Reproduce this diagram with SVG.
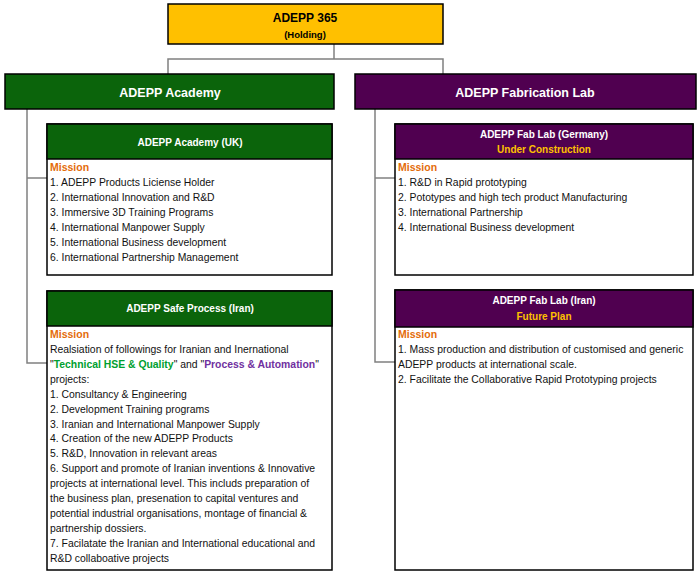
<svg xmlns="http://www.w3.org/2000/svg" width="700" height="577" viewBox="0 0 700 577">
<style>
text{font-family:"Liberation Sans",Arial,sans-serif;}
.b{fill:#fff;stroke:#000;stroke-width:1.5}
.g{fill:#0B640B}
.p{fill:#500050}
.hd{fill:#fff;font-weight:bold;text-anchor:middle}
.t{font-size:10.4px;fill:#111}
.m{font-size:10.5px;fill:#E46C0A;font-weight:bold}
.y{fill:#FFC000;font-weight:bold;font-size:10px;text-anchor:middle}
.c{stroke:#808080;stroke-width:1.5;fill:none}
</style>
<g id="connectors">
<polyline class="c" points="334,44 334,59"/>
<polyline class="c" points="168,74 168,59 443,59 443,74"/>
<polyline class="c" points="27,109 27,363 47,363"/>
<line class="c" x1="27" y1="178" x2="47" y2="178"/>
<polyline class="c" points="375,109 375,362 395,362"/>
<line class="c" x1="375" y1="178" x2="395" y2="178"/>
</g>
<g id="holding">
<rect x="168" y="4" width="275" height="40" fill="#FFC000" stroke="#000" stroke-width="1.5"/>
<text x="305" y="22" font-size="12" font-weight="bold" text-anchor="middle" fill="#000">ADEPP 365</text>
<text x="305" y="38" font-size="9.5" font-weight="bold" text-anchor="middle" fill="#000">(Holding)</text>
</g>
<g id="academy">
<rect x="5" y="74" width="329" height="35" class="g" stroke="#000" stroke-width="1.5"/>
<text x="170" y="97" class="hd" font-size="12.5">ADEPP Academy</text>
</g>
<g id="fablab">
<rect x="355" y="74" width="341" height="35" class="p" stroke="#000" stroke-width="1.5"/>
<text x="525" y="97" class="hd" font-size="12.5">ADEPP Fabrication Lab</text>
</g>
<g id="academy-uk">
<rect x="47" y="124" width="285" height="151" class="b"/>
<rect x="47" y="124" width="285" height="35" class="g" stroke="#000" stroke-width="1.5"/>
<text x="190" y="146" class="hd" font-size="10">ADEPP Academy (UK)</text>
<text x="50" y="171" class="m">Mission</text>
<text x="50" y="186" class="t">1. ADEPP Products Liciense Holder</text>
<text x="50" y="201" class="t">2. International Innovation and R&amp;D</text>
<text x="50" y="216" class="t">3. Immersive 3D Training Programs</text>
<text x="50" y="231" class="t">4. International Manpower Supply</text>
<text x="50" y="246" class="t">5. International Business development</text>
<text x="50" y="261" class="t">6. International Partnership Management</text>
</g>
<g id="fablab-germany">
<rect x="395" y="124" width="298" height="151" class="b"/>
<rect x="395" y="124" width="298" height="35" class="p" stroke="#000" stroke-width="1.5"/>
<text x="544" y="138" class="hd" font-size="10">ADEPP Fab Lab (Germany)</text>
<text x="544" y="153" class="y">Under Construction</text>
<text x="398" y="171" class="m">Mission</text>
<text x="398" y="186" class="t">1. R&amp;D in Rapid prototyping</text>
<text x="398" y="201" class="t">2. Pototypes and high tech product Manufacturing</text>
<text x="398" y="216" class="t">3. International Partnership</text>
<text x="398" y="231" class="t">4. International Business development</text>
</g>
<g id="safe-process-iran">
<rect x="47" y="291" width="285" height="279" class="b"/>
<rect x="47" y="291" width="285" height="35" class="g" stroke="#000" stroke-width="1.5"/>
<text x="190" y="312" class="hd" font-size="10">ADEPP Safe Process (Iran)</text>
<text x="50" y="338" class="m">Mission</text>
<text x="50" y="353" class="t">Realsiation of followings for Iranian and Inernational</text>
<text x="50" y="368" class="t">"<tspan fill="#00A030" font-weight="bold">Technical HSE &amp; Quality</tspan>" and "<tspan fill="#7030A0" font-weight="bold">Process &amp; Automation</tspan>"</text>
<text x="50" y="383" class="t">projects:</text>
<text x="50" y="398" class="t">1. Consultancy &amp; Engineering</text>
<text x="50" y="413" class="t">2. Development Training programs</text>
<text x="50" y="428" class="t">3. Iranian and International Manpower Supply</text>
<text x="50" y="442" class="t">4. Creation of the new ADEPP Products</text>
<text x="50" y="457" class="t">5. R&amp;D, Innovation in relevant areas</text>
<text x="50" y="472" class="t">6. Support and promote of Iranian inventions &amp; Innovative</text>
<text x="50" y="487" class="t">projects at international level. This includs preparation of</text>
<text x="50" y="502" class="t">the business plan, presenation to capital ventures and</text>
<text x="50" y="517" class="t">potential industrial organisations, montage of financial &amp;</text>
<text x="50" y="532" class="t">partnership dossiers.</text>
<text x="50" y="547" class="t">7. Facilatate the Iranian and International educational and</text>
<text x="50" y="562" class="t">R&amp;D collaboative projects</text>
</g>
<g id="fablab-iran">
<rect x="395" y="290" width="298" height="280" class="b"/>
<rect x="395" y="290" width="298" height="37" class="p" stroke="#000" stroke-width="1.5"/>
<text x="544" y="304" class="hd" font-size="10">ADEPP Fab Lab (Iran)</text>
<text x="544" y="320" class="y">Future Plan</text>
<text x="398" y="338" class="m">Mission</text>
<text x="398" y="353" class="t">1. Mass production and distribution of customised and generic</text>
<text x="398" y="368" class="t">ADEPP products at international scale.</text>
<text x="398" y="383" class="t">2. Facilitate the Collaborative Rapid Prototyping projects</text>
</g>
</svg>
